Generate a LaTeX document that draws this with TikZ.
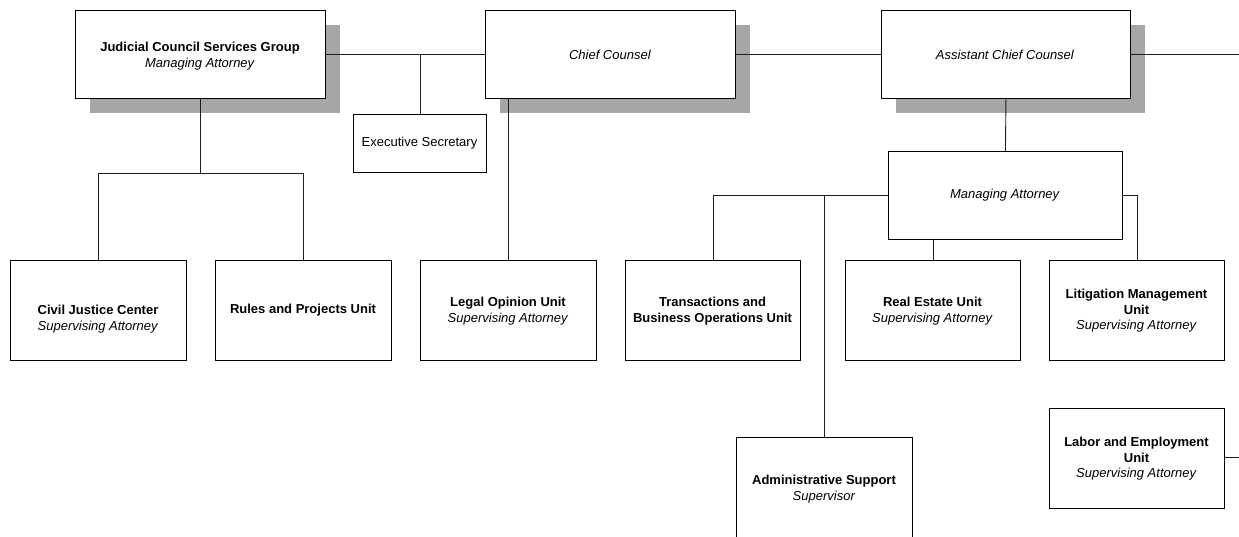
\documentclass[tikz,border=0pt]{standalone}
\usepackage{fontspec}
\setmainfont{Liberation Sans}
\usetikzlibrary{shadows}
\definecolor{shadowgray}{HTML}{A6A6A6}
\definecolor{linegray}{HTML}{1E1E1E}
\begin{document}
\begin{tikzpicture}[x=1pt,y=-1pt,
  box/.style={draw=black, line width=0.9pt, fill=white, inner sep=0pt, anchor=north west},
  sbox/.style={box, drop shadow={shadow xshift=15pt, shadow yshift=-15pt, fill=shadowgray, opacity=1}},
  txt/.style={align=center, inner sep=0pt, font=\fontsize{13}{15.5}\selectfont},
  conn/.style={draw=linegray, line width=0.9pt}
]
\clip (0,0) rectangle (1239,537);
\fill[white] (0,0) rectangle (1239,537);

% top row
\node[sbox, minimum width=250pt, minimum height=88pt] (jcs) at (75,10) {};
\node[sbox, minimum width=250pt, minimum height=88pt] (cc) at (485,10) {};
\node[sbox, minimum width=249pt, minimum height=88pt] (acc) at (881,10) {};
\coordinate (edgeR) at (1240,54);
\coordinate (edgeL) at (1240,457);

\node[box, minimum width=133pt, minimum height=58pt] (es) at (353,114) {};
\node[box, minimum width=234pt, minimum height=88pt] (ma) at (888,151) {};

% unit row
\node[box, minimum width=176pt, minimum height=100pt] (cjc) at (10,260) {};
\node[box, minimum width=176pt, minimum height=100pt] (rpu) at (215,260) {};
\node[box, minimum width=176pt, minimum height=100pt] (lou) at (420,260) {};
\node[box, minimum width=175pt, minimum height=100pt] (tbo) at (625,260) {};
\node[box, minimum width=175pt, minimum height=100pt] (reu) at (845,260) {};
\node[box, minimum width=175pt, minimum height=100pt] (lmu) at (1049,260) {};
\node[box, minimum width=175pt, minimum height=100pt] (leu) at (1049,408) {};
\node[box, minimum width=176pt, minimum height=130pt] (asu) at (736,437) {};

% connectors
\draw[conn] (jcs.east) -- (cc.west);
\draw[conn] (cc.east) -- (acc.west);
\draw[conn] (acc.east) -- (acc.east -| edgeR);
\draw[conn] (es.north) -- (es.north |- jcs.east);
\draw[conn] (jcs.south) -- ++(0,75) -| (cjc.north);
\draw[conn] (jcs.south) ++(0,75) -| (rpu.north);
\draw[conn] (lou.north) -- (lou.north |- cc.south);
\draw[conn] (acc.south) -- (ma.north);
\draw[conn] (ma.west) -| (tbo.north);
\draw[conn] (ma.west) -| (asu.north);
\draw[conn] (reu.north) -- (reu.north |- ma.south);
\draw[conn] (ma.east) -| (lmu.north);
\draw[conn] (leu.east |- edgeL) -- (edgeL);

% texts
\node[txt] (jcs-t) at (200,56) {\textbf{Judicial Council Services Group}\\\textit{Managing Attorney}};
\node[txt] (cc-t) at (610,55) {\textit{Chief Counsel}};
\node[txt] (acc-t) at (1005,55) {\textit{Assistant Chief Counsel}};
\node[txt] (es-t) at (419.5,143) {Executive Secretary};
\node[txt] (ma-t) at (1005,195) {\textit{Managing Attorney}};
\node[txt] (cjc-t) at (98,319) {\textbf{Civil Justice Center}\\\textit{Supervising Attorney}};
\node[txt] (rpu-t) at (303,310) {\textbf{Rules and Projects Unit}};
\node[txt] (lou-t) at (508,311) {\textbf{Legal Opinion Unit}\\\textit{Supervising Attorney}};
\node[txt] (tbo-t) at (712.5,311) {\textbf{Transactions and}\\\textbf{Business Operations Unit}};
\node[txt] (reu-t) at (932.5,311) {\textbf{Real Estate Unit}\\\textit{Supervising Attorney}};
\node[txt] (lmu-t) at (1136.5,311) {\textbf{Litigation Management}\\\textbf{Unit}\\\textit{Supervising Attorney}};
\node[txt] (leu-t) at (1136.5,459) {\textbf{Labor and Employment}\\\textbf{Unit}\\\textit{Supervising Attorney}};
\node[txt] (asu-t) at (824,489) {\textbf{Administrative Support}\\\textit{Supervisor}};
\end{tikzpicture}
\end{document}
